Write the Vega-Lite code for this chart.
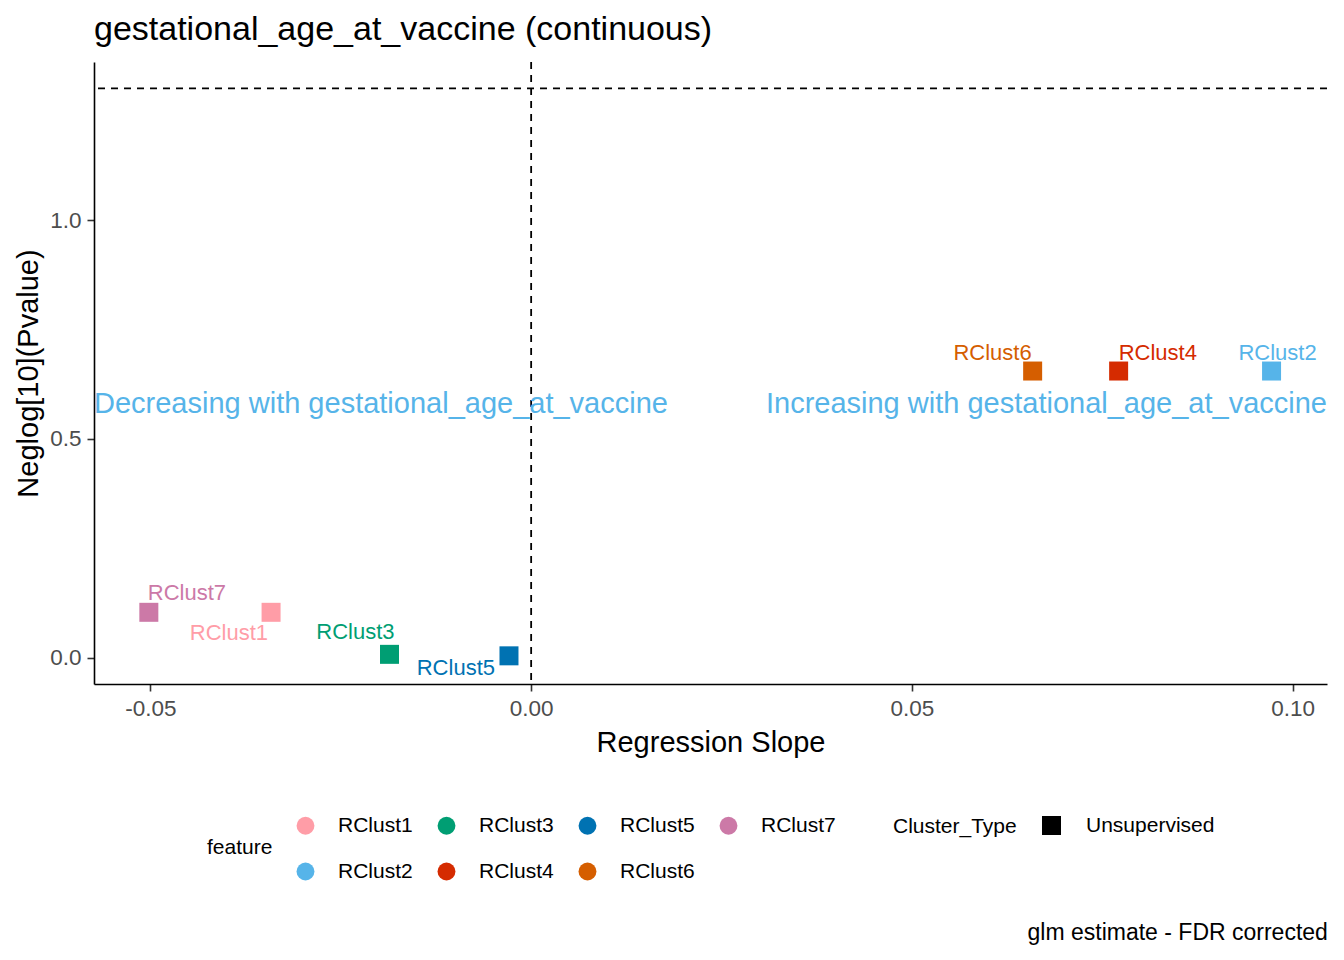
{
  "$schema": "https://vega.github.io/schema/vega-lite/v6.json",
  "padding": {"left": 14, "top": 13, "right": 14, "bottom": 12},
  "background": "white",
  "config": {
    "font": "Liberation Sans",
    "view": {"stroke": null},
    "title": {"fontWeight": "normal", "color": "black", "font": "Liberation Sans"},
    "axis": {
      "grid": false,
      "domainColor": "black",
      "domainWidth": 1.6,
      "tickColor": "#333333",
      "tickWidth": 1.6,
      "tickSize": 7,
      "labelFontSize": 22.5,
      "labelColor": "#4D4D4D",
      "titleFontSize": 29,
      "titleFontWeight": "normal",
      "titleColor": "black"
    },
    "legend": {
      "labelFontSize": 21,
      "titleFontSize": 21,
      "titleFontWeight": "normal",
      "labelColor": "black",
      "titleColor": "black",
      "layout": {"bottom": {"anchor": "middle", "direction": "horizontal", "margin": 57}}
    }
  },
  "datasets": {
    "clusters": [
      {"feature": "RClust1", "Cluster_Type": "Unsupervised", "slope": -0.03415, "neglog_p": 0.1034},
      {"feature": "RClust2", "Cluster_Type": "Unsupervised", "slope": 0.09722, "neglog_p": 0.655},
      {"feature": "RClust3", "Cluster_Type": "Unsupervised", "slope": -0.0186, "neglog_p": 0.0073},
      {"feature": "RClust4", "Cluster_Type": "Unsupervised", "slope": 0.07714, "neglog_p": 0.655},
      {"feature": "RClust5", "Cluster_Type": "Unsupervised", "slope": -0.00291, "neglog_p": 0.0039},
      {"feature": "RClust6", "Cluster_Type": "Unsupervised", "slope": 0.06585, "neglog_p": 0.655},
      {"feature": "RClust7", "Cluster_Type": "Unsupervised", "slope": -0.0502, "neglog_p": 0.1034}
    ]
  },
  "title": {
    "text": "glm estimate - FDR corrected",
    "orient": "bottom",
    "anchor": "end",
    "fontSize": 23,
    "offset": 40
  },
  "vconcat": [
    {
      "width": 1233,
      "height": 622,
      "title": {
        "text": "gestational_age_at_vaccine (continuous)",
        "anchor": "start",
        "frame": "group",
        "fontSize": 34,
        "offset": 14
      },
      "layer": [
        {
          "data": {"values": [{"slope": 0}]},
          "mark": {"type": "rule", "color": "black", "strokeWidth": 1.8, "strokeDash": [7, 6]},
          "encoding": {
            "x": {"field": "slope", "type": "quantitative", "scale": {"domain": [-0.0574, 0.1045], "nice": false, "zero": false}}
          }
        },
        {
          "data": {"values": [{"neglog_p": 1.301}]},
          "mark": {"type": "rule", "color": "black", "strokeWidth": 1.8, "strokeDash": [7, 6]},
          "encoding": {
            "y": {"field": "neglog_p", "type": "quantitative", "scale": {"domain": [-0.0605, 1.3615], "nice": false, "zero": false}}
          }
        },
        {
          "data": {"values": [{"slope": -0.0574, "neglog_p": 0.58, "note": "Decreasing with gestational_age_at_vaccine"}]},
          "mark": {"type": "text", "align": "left", "baseline": "middle", "fontSize": 29, "color": "#56B4E9"},
          "encoding": {
            "x": {"field": "slope", "type": "quantitative"},
            "y": {"field": "neglog_p", "type": "quantitative"},
            "text": {"field": "note"}
          }
        },
        {
          "data": {"values": [{"slope": 0.1045, "neglog_p": 0.58, "note": "Increasing with gestational_age_at_vaccine"}]},
          "mark": {"type": "text", "align": "right", "baseline": "middle", "fontSize": 29, "color": "#56B4E9"},
          "encoding": {
            "x": {"field": "slope", "type": "quantitative"},
            "y": {"field": "neglog_p", "type": "quantitative"},
            "text": {"field": "note"}
          }
        },
        {
          "data": {"name": "clusters"},
          "mark": {"type": "point", "filled": true, "size": 361, "opacity": 1},
          "encoding": {
            "x": {
              "field": "slope", "type": "quantitative", "title": "Regression Slope",
              "scale": {"domain": [-0.0574, 0.1045], "nice": false, "zero": false},
              "axis": {"values": [-0.05, 0, 0.05, 0.1], "format": ".2f", "labelExpr": "replace(datum.label, '\u2212', '-')", "labelPadding": 6, "titlePadding": 9, "labelFlush": false}
            },
            "y": {
              "field": "neglog_p", "type": "quantitative", "title": "Neglog[10](Pvalue)",
              "scale": {"domain": [-0.0605, 1.3615], "nice": false, "zero": false},
              "axis": {"values": [0, 0.5, 1], "format": ".1f", "labelPadding": 6, "titlePadding": 6}
            },
            "color": {
              "field": "feature", "type": "nominal",
              "scale": {
                "domain": ["RClust1", "RClust3", "RClust5", "RClust7", "RClust2", "RClust4", "RClust6"],
                "range": ["#FF9DA7", "#009E73", "#0072B2", "#CC79A7", "#56B4E9", "#D52B00", "#D55E00"]
              },
              "legend": {
                "title": "feature",
                "orient": "bottom",
                "direction": "horizontal",
                "columns": 4,
                "titleOrient": "left",
                "titleAnchor": "middle",
                "titleBaseline": "middle",
                "titlePadding": 22,
                "symbolType": "circle",
                "symbolSize": 320,
                "symbolOpacity": 1,
                "labelOffset": 22,
                "columnPadding": 23,
                "rowPadding": 24,
                "offset": 57
              }
            },
            "shape": {
              "field": "Cluster_Type", "type": "nominal",
              "scale": {"range": ["square"]},
              "legend": {
                "title": "Cluster_Type",
                "orient": "bottom",
                "direction": "horizontal",
                "titleOrient": "left",
                "titlePadding": 24,
                "symbolSize": 361,
                "labelOffset": 24,
                "offset": 57,
                "encode": {"symbols": {"update": {"fill": {"value": "black"}, "stroke": {"value": "black"}, "opacity": {"value": 1}}}}
              }
            }
          }
        },
        {
          "data": {"name": "clusters"},
          "transform": [{"filter": "datum.feature == 'RClust7'"}],
          "mark": {"type": "text", "align": "left", "baseline": "middle", "fontSize": 22, "dx": -1, "dy": -19},
          "encoding": {
            "x": {"field": "slope", "type": "quantitative"},
            "y": {"field": "neglog_p", "type": "quantitative"},
            "text": {"field": "feature"},
            "color": {"field": "feature", "type": "nominal"}
          }
        },
        {
          "data": {"name": "clusters"},
          "transform": [{"filter": "datum.feature == 'RClust1'"}],
          "mark": {"type": "text", "align": "right", "baseline": "middle", "fontSize": 22, "dx": -3, "dy": 21},
          "encoding": {
            "x": {"field": "slope", "type": "quantitative"},
            "y": {"field": "neglog_p", "type": "quantitative"},
            "text": {"field": "feature"},
            "color": {"field": "feature", "type": "nominal"}
          }
        },
        {
          "data": {"name": "clusters"},
          "transform": [{"filter": "datum.feature == 'RClust3'"}],
          "mark": {"type": "text", "align": "right", "baseline": "middle", "fontSize": 22, "dx": 5, "dy": -22},
          "encoding": {
            "x": {"field": "slope", "type": "quantitative"},
            "y": {"field": "neglog_p", "type": "quantitative"},
            "text": {"field": "feature"},
            "color": {"field": "feature", "type": "nominal"}
          }
        },
        {
          "data": {"name": "clusters"},
          "transform": [{"filter": "datum.feature == 'RClust5'"}],
          "mark": {"type": "text", "align": "right", "baseline": "middle", "fontSize": 22, "dx": -14, "dy": 12},
          "encoding": {
            "x": {"field": "slope", "type": "quantitative"},
            "y": {"field": "neglog_p", "type": "quantitative"},
            "text": {"field": "feature"},
            "color": {"field": "feature", "type": "nominal"}
          }
        },
        {
          "data": {"name": "clusters"},
          "transform": [{"filter": "datum.feature == 'RClust6'"}],
          "mark": {"type": "text", "align": "right", "baseline": "middle", "fontSize": 22, "dx": -1, "dy": -18},
          "encoding": {
            "x": {"field": "slope", "type": "quantitative"},
            "y": {"field": "neglog_p", "type": "quantitative"},
            "text": {"field": "feature"},
            "color": {"field": "feature", "type": "nominal"}
          }
        },
        {
          "data": {"name": "clusters"},
          "transform": [{"filter": "datum.feature == 'RClust4'"}],
          "mark": {"type": "text", "align": "left", "baseline": "middle", "fontSize": 22, "dx": 0, "dy": -18},
          "encoding": {
            "x": {"field": "slope", "type": "quantitative"},
            "y": {"field": "neglog_p", "type": "quantitative"},
            "text": {"field": "feature"},
            "color": {"field": "feature", "type": "nominal"}
          }
        },
        {
          "data": {"name": "clusters"},
          "transform": [{"filter": "datum.feature == 'RClust2'"}],
          "mark": {"type": "text", "align": "center", "baseline": "middle", "fontSize": 22, "dx": 6, "dy": -18},
          "encoding": {
            "x": {"field": "slope", "type": "quantitative"},
            "y": {"field": "neglog_p", "type": "quantitative"},
            "text": {"field": "feature"},
            "color": {"field": "feature", "type": "nominal"}
          }
        }
      ]
    }
  ]
}
